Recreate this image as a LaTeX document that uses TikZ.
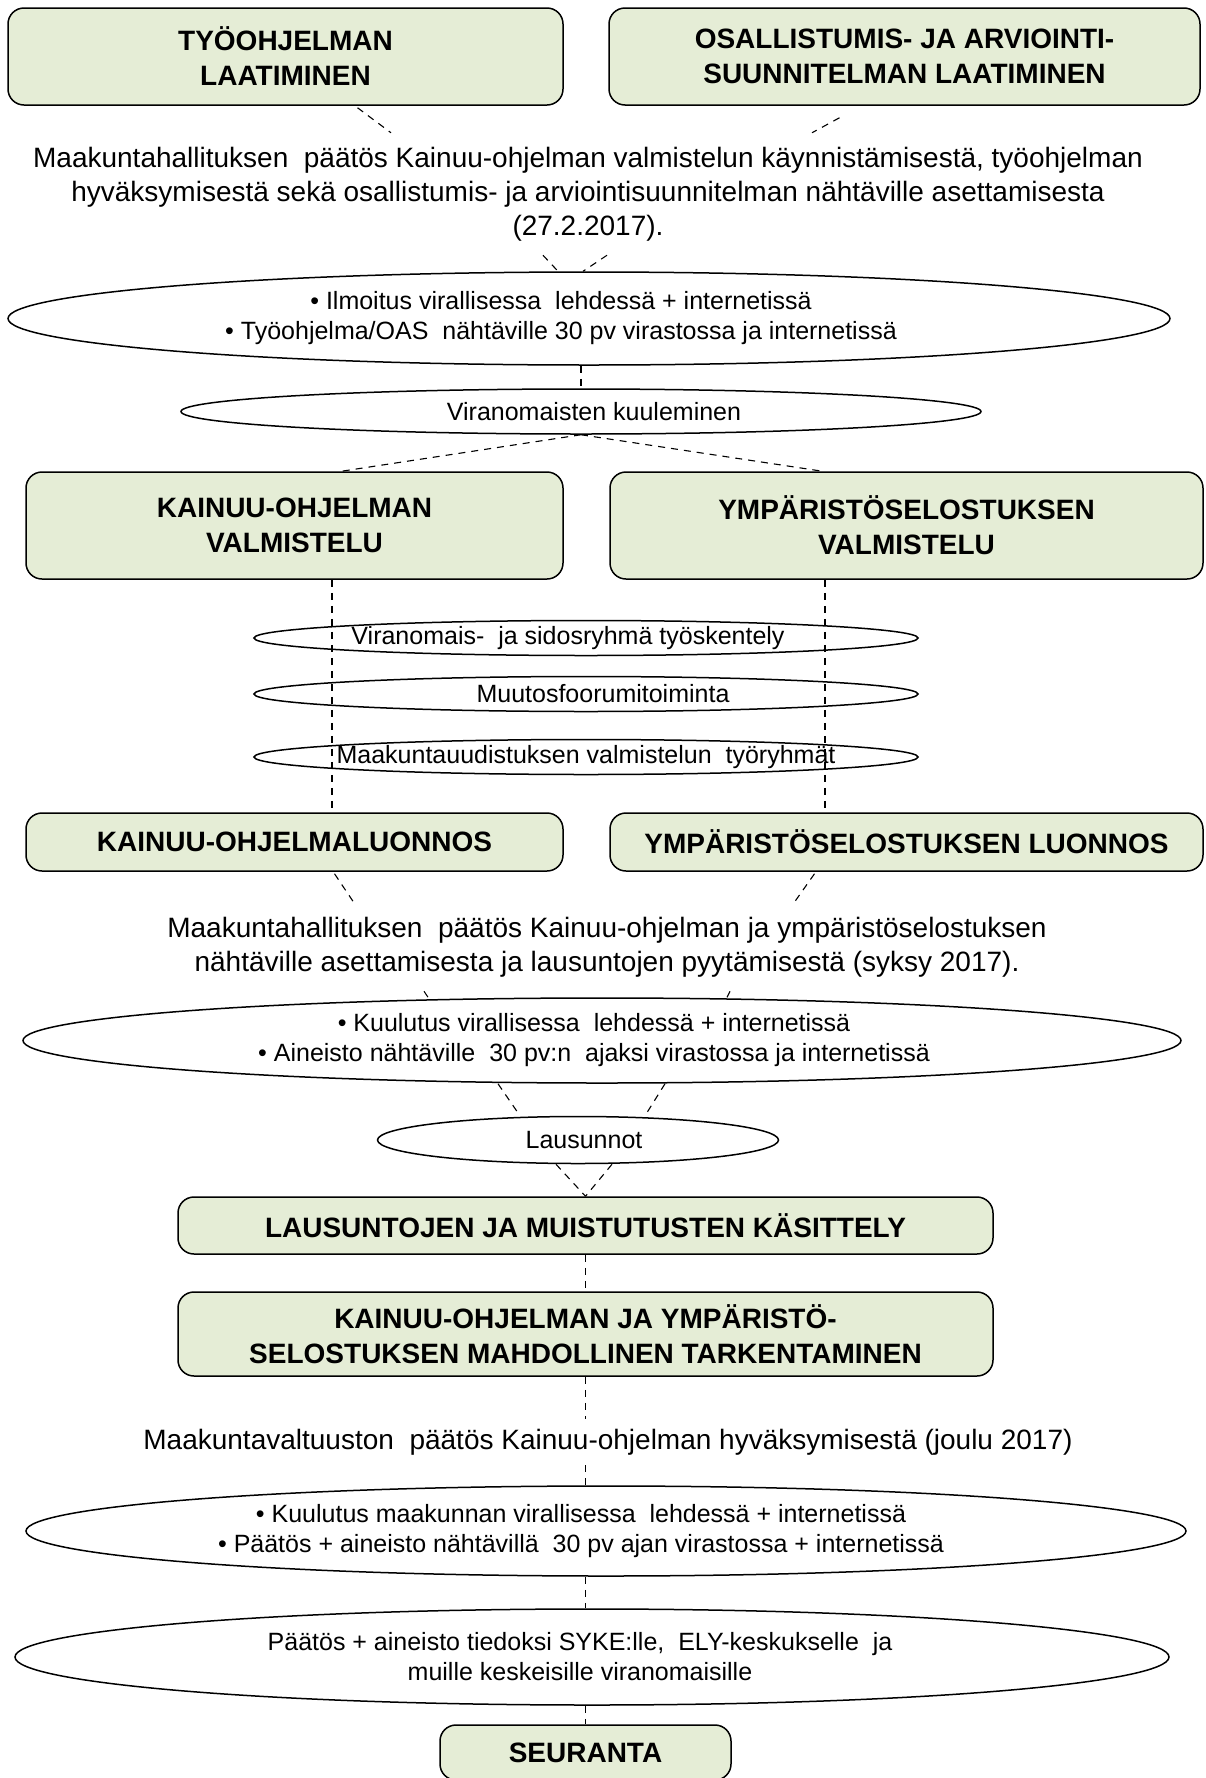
\documentclass[tikz,border=0pt]{standalone}
\usepackage{fontspec}
\setmainfont{Liberation Sans}
\usepackage{tikz}
\usetikzlibrary{shapes.geometric}
\definecolor{boxgreen}{RGB}{229,237,214}

\begin{document}
\begin{tikzpicture}[x=1pt,y=-1pt,
  box/.style={draw,line width=1.5pt,rounded corners=16pt,fill=boxgreen,align=center,inner sep=0pt,
    font=\bfseries\fontsize{28}{35}\selectfont},
  oval/.style={draw,ellipse,line width=1.5pt,inner sep=0pt},
  ovaltext/.style={align=center,inner sep=0pt,font=\fontsize{25}{30}\selectfont},
  txt/.style={align=center,inner xsep=0pt,inner ysep=14pt,font=\fontsize{28}{34}\selectfont},
  conn/.style={line width=1.1pt,dash pattern=on 7pt off 6pt}]
\useasboundingbox (0,0) rectangle (1206,1778);
\node[box,minimum width=555pt,minimum height=97pt] (tyo) at (285.5,56.5) {TYÖOHJELMAN\\LAATIMINEN};
\node[box,minimum width=591pt,minimum height=97pt] (oas) at (904.5,56.5) {OSALLISTUMIS- JA ARVIOINTI-\\SUUNNITELMAN LAATIMINEN};
\node[txt] (mh1) at (588,194) {Maakuntahallituksen~ päätös Kainuu-ohjelman valmistelun käynnistämisestä, työohjelman\\hyväksymisestä sekä osallistumis- ja arviointisuunnitelman nähtäville asettamisesta\\(27.2.2017).};
\node[oval,minimum width=1162pt,minimum height=93pt,
  label={[ovaltext,xshift=-28pt]center:{• Ilmoitus virallisessa~ lehdessä + internetissä\\• Työohjelma/OAS~ nähtäville 30 pv virastossa ja internetissä}}] (ilm) at (589,318.5) {};
\node[oval,minimum width=800pt,minimum height=45pt,
  label={[ovaltext,xshift=13pt]center:Viranomaisten kuuleminen}] (kuul) at (581,411.5) {};
\node[box,minimum width=537pt,minimum height=107pt] (kval) at (294.5,525.5) {KAINUU-OHJELMAN\\VALMISTELU};
\node[box,minimum width=593pt,minimum height=107pt] (yval) at (906.5,525.5) {YMPÄRISTÖSELOSTUKSEN\\VALMISTELU};
\node[oval,minimum width=664pt,minimum height=35pt,
  label={[ovaltext,xshift=-18pt]center:Viranomais-~ ja sidosryhmä työskentely}] (sid) at (586,638) {};
\node[oval,minimum width=664pt,minimum height=35pt,
  label={[ovaltext,xshift=17pt]center:Muutosfoorumitoiminta}] (muu) at (586,694) {};
\node[oval,minimum width=664pt,minimum height=35pt,
  label={[ovaltext]center:Maakuntauudistuksen valmistelun~ työryhmät}] (tr) at (586,757) {};
\node[box,minimum width=537pt,minimum height=58pt] (kluo) at (294.5,842) {KAINUU-OHJELMALUONNOS};
\node[box,minimum width=593pt,minimum height=58pt] (yluo) at (906.5,842) {YMPÄRISTÖSELOSTUKSEN LUONNOS};
\node[txt] (mh2) at (607,947) {Maakuntahallituksen~ päätös Kainuu-ohjelman ja ympäristöselostuksen\\nähtäville asettamisesta ja lausuntojen pyytämisestä (syksy 2017).};
\node[oval,minimum width=1158pt,minimum height=85pt,
  label={[ovaltext,xshift=-8pt]center:{• Kuulutus virallisessa~ lehdessä + internetissä\\• Aineisto nähtäville~ 30 pv:n~ ajaksi virastossa ja internetissä}}] (kuu) at (602,1040.5) {};
\node[oval,minimum width=401pt,minimum height=47pt,
  label={[ovaltext,xshift=6pt]center:Lausunnot}] (lau) at (578,1140) {};
\node[box,minimum width=815pt,minimum height=57pt] (kas) at (585.5,1225.5) {LAUSUNTOJEN JA MUISTUTUSTEN KÄSITTELY};
\node[box,minimum width=815pt,minimum height=84pt] (tark) at (585.5,1334) {KAINUU-OHJELMAN JA YMPÄRISTÖ-\\SELOSTUKSEN MAHDOLLINEN TARKENTAMINEN};
\node[txt,inner ysep=10pt] (mv) at (608,1442) {Maakuntavaltuuston~ päätös Kainuu-ohjelman hyväksymisestä (joulu 2017)};
\node[oval,minimum width=1160pt,minimum height=90pt,
  label={[ovaltext,xshift=-25pt]center:{• Kuulutus maakunnan virallisessa~ lehdessä + internetissä\\• Päätös + aineisto nähtävillä~ 30 pv ajan virastossa + internetissä}}] (kuu2) at (606,1531) {};
\node[oval,minimum width=1154pt,minimum height=96pt,
  label={[ovaltext,xshift=-12pt]center:{Päätös + aineisto tiedoksi SYKE:lle,~ ELY-keskukselle~ ja\\muille keskeisille viranomaisille}}] (tied) at (592,1657) {};
\node[box,minimum width=291pt,minimum height=55pt] (seur) at (585.5,1752.5) {SEURANTA};
\draw[conn] ([xshift=72pt,yshift=-2pt]tyo.south) -- ([xshift=-197pt]mh1.north);
\draw[conn] ([xshift=-65pt,yshift=-12pt]oas.south) -- ([xshift=224pt]mh1.north);
\draw[conn] ([xshift=-45pt]mh1.south) -- ([xshift=-31pt]ilm.north);
\draw[conn] ([xshift=19pt]mh1.south) -- ([xshift=-6pt]ilm.north);
\draw[conn] (kuul.north |- ilm.south) -- (kuul.north);
\draw[conn] (kuul.south) -- ([xshift=47pt]kval.north);
\draw[conn] (kuul.south) -- ([xshift=-84pt]yval.north);
\draw[conn] ([xshift=37.5pt]kval.south) -- ([xshift=37.5pt]kluo.north);
\draw[conn] ([xshift=-81.5pt]yval.south) -- ([xshift=-81.5pt]yluo.north);
\draw[conn] ([xshift=40pt,yshift=-2pt]kluo.south) -- ([xshift=-253pt]mh2.north);
\draw[conn] ([xshift=-92pt,yshift=-2pt]yluo.south) -- ([xshift=187pt]mh2.north);
\draw[conn] ([xshift=-183pt]mh2.south) -- ([xshift=-174pt]kuu.north);
\draw[conn] ([xshift=123pt]mh2.south) -- ([xshift=125pt]kuu.north);
\draw[conn] ([xshift=-104pt]kuu.south) -- ([xshift=-58pt]lau.north);
\draw[conn] ([xshift=63pt]kuu.south) -- ([xshift=67pt]lau.north);
\draw[conn] ([xshift=-22pt]lau.south) -- (kas.north);
\draw[conn] ([xshift=34pt]lau.south) -- (kas.north);
\draw[conn] (kas.south) -- (tark.north);
\draw[conn] (tark.south) -- (tark.south |- mv.north);
\draw[conn] (tark.south |- mv.south) -- (tark.south |- kuu2.north);
\draw[conn] (tark.south |- kuu2.south) -- (tark.south |- tied.north);
\draw[conn] (tark.south |- tied.south) -- (seur.north);
\end{tikzpicture}
\end{document}
